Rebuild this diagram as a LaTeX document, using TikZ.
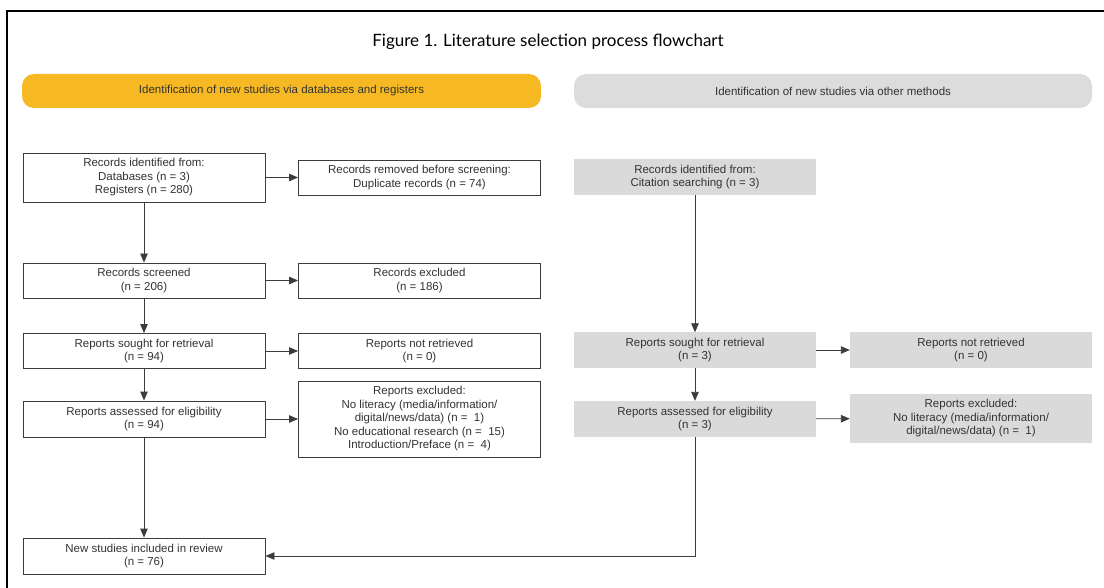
\documentclass[tikz,border=0pt]{standalone}
\usepackage{fontspec}
\setmainfont{Liberation Sans}
\newfontfamily\titlefont{Lato}
\usetikzlibrary{arrows.meta}
\definecolor{ybar}{HTML}{F7B923}
\definecolor{gbar}{HTML}{DCDCDC}
\definecolor{gbox}{HTML}{DADADA}
\definecolor{lnc}{HTML}{3C3C3C}
\definecolor{txc}{HTML}{333333}
\begin{document}
\begin{tikzpicture}[x=1pt,y=-1pt,
 every node/.style={font=\fontsize{11.5}{13.5}\selectfont, text=txc, align=center, inner sep=0pt},
 wbox/.style={draw=lnc, line width=0.9pt, fill=white, minimum width=242pt},
 gboxs/.style={fill=gbox, minimum width=242pt},
 band/.style={rounded corners=12pt, minimum height=34pt},
 arr/.style={draw=lnc, line width=0.9pt, -{Triangle[length=9pt,width=7.5pt]}}]
\useasboundingbox (0,0) rectangle (1104,588);
\fill[white] (0,0) rectangle (1104,588);
\draw[line width=1.2pt] (7,588) -- (7,11) -- (1104,11);
\node[font=\titlefont\fontsize{17}{19}\selectfont, text=black] (title) at (548,42) {Figure 1. Literature selection process flowchart};
\node[band, fill=ybar, minimum width=519pt] (bandL) at (281.5,91) {Identification of new studies via databases and registers};
\node[band, fill=gbar, minimum width=518pt] (bandR) at (833,91) {Identification of new studies via other methods};
% left column
\node[wbox, minimum height=49pt] (A) at (144,177.5) {Records identified from:\\Databases (n = 3)\\Registers (n = 280)};
\node[wbox, minimum height=35pt] (B) at (419.5,177.5) {Records removed before screening:\\Duplicate records (n = 74)};
\node[wbox, minimum height=35pt] (C) at (144,280.5) {Records screened\\(n = 206)};
\node[wbox, minimum height=35pt] (D) at (419.5,280.5) {Records excluded\\(n = 186)};
\node[wbox, minimum height=35pt] (E) at (144,351) {Reports sought for retrieval\\(n = 94)};
\node[wbox, minimum height=35pt] (F) at (419.5,351) {Reports not retrieved\\(n = 0)};
\node[wbox, minimum height=36pt] (G) at (144,419) {Reports assessed for eligibility\\(n = 94)};
\node[wbox, minimum height=76pt] (H) at (419.5,419) {Reports excluded:\\No literacy (media/information/\\digital/news/data) (n =\ \ 1)\\No educational research (n =\ \ 15)\\Introduction/Preface (n =\ \ 4)};
\node[wbox, minimum height=36pt] (I) at (144,556) {New studies included in review\\(n = 76)};
% right column
\node[gboxs, minimum height=36pt] (J) at (695,177) {Records identified from:\\Citation searching (n = 3)};
\node[gboxs, minimum height=35pt] (K) at (695,350) {Reports sought for retrieval\\(n = 3)};
\node[gboxs, minimum height=35pt] (L) at (971,350) {Reports not retrieved\\(n = 0)};
\node[gboxs, minimum height=36pt] (M) at (695,419) {Reports assessed for eligibility\\(n = 3)};
\node[gboxs, minimum height=49pt] (N) at (971,418.5) {Reports excluded:\\No literacy (media/information/\\digital/news/data) (n =\ \ 1)};
% arrows
\draw[arr] (A) -- (B);
\draw[arr] (A) -- (C);
\draw[arr] (C) -- (D);
\draw[arr] (C) -- (E);
\draw[arr] (E) -- (F);
\draw[arr] (E) -- (G);
\draw[arr] (G) -- (H);
\draw[arr] (G) -- (I);
\draw[arr] (J) -- (K);
\draw[arr] (K) -- (L);
\draw[arr] (K) -- (M);
\draw[arr] (M) -- (N);
\draw[arr] (M.south) |- (I.east);
\end{tikzpicture}
\end{document}
